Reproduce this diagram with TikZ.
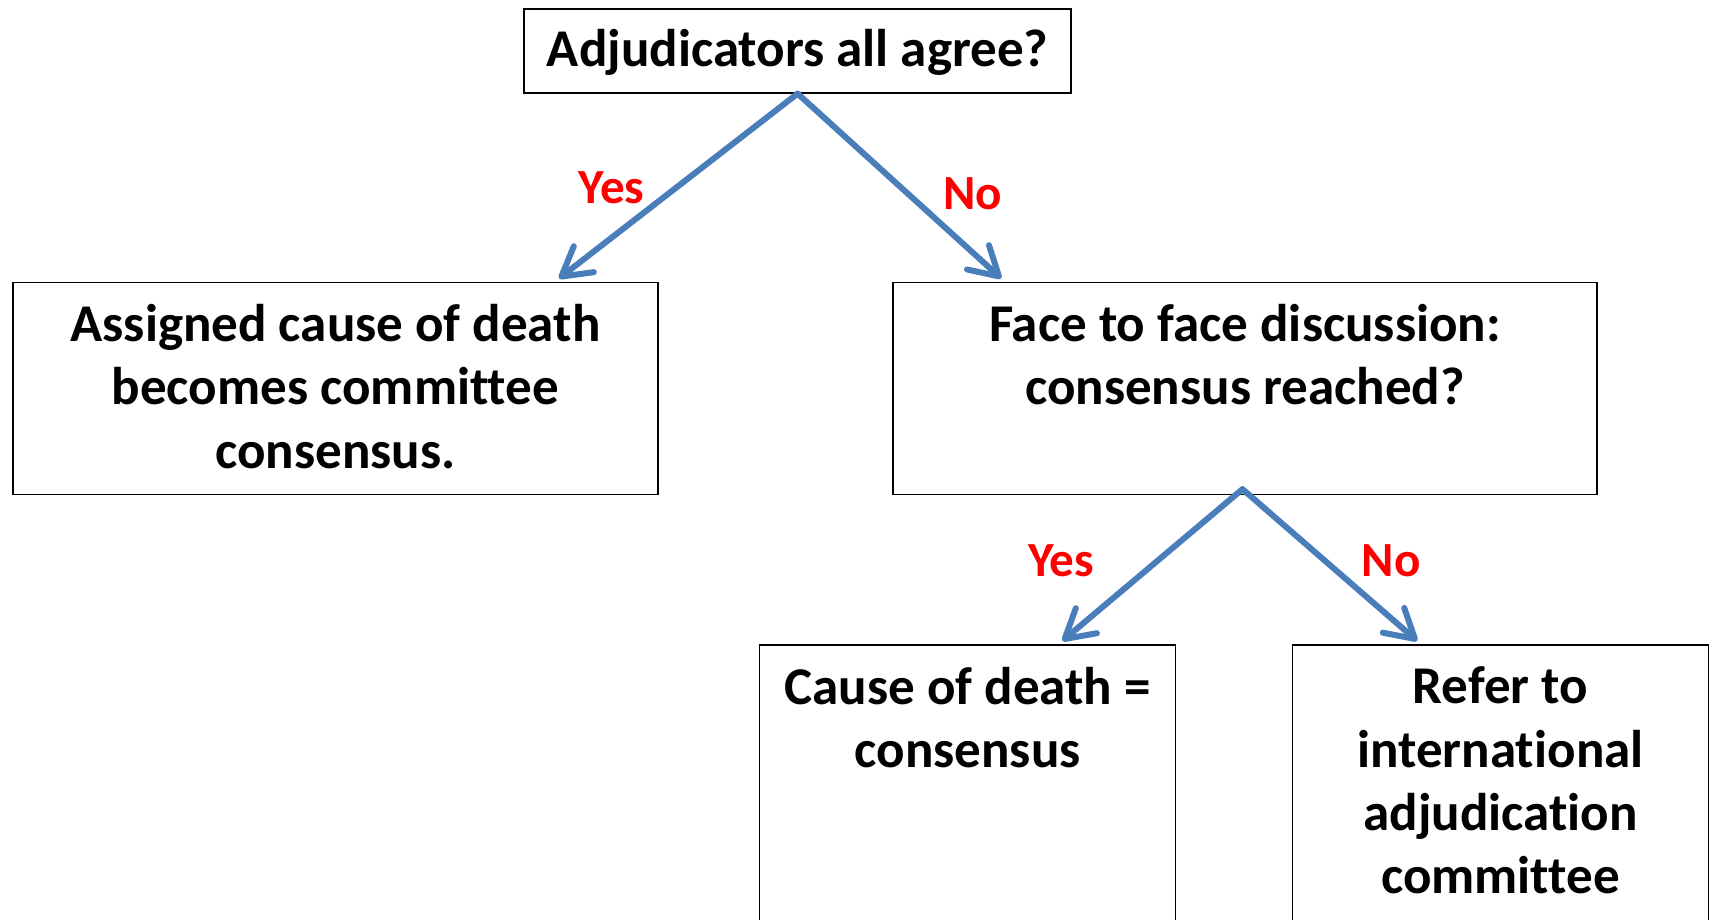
\documentclass[tikz,border=0pt]{standalone}
\usepackage{fontspec}
\setmainfont[Ligatures=NoCommon]{Carlito}
\usetikzlibrary{arrows.meta}
\definecolor{arrowblue}{HTML}{4A7EBB}
\begin{document}
\begin{tikzpicture}[x=1pt,y=-1pt,
  box/.style={draw=black, line width=1.5pt, inner sep=0pt, fill=white,
    font=\fontsize{48.6}{58}\selectfont\bfseries},
  flow/.style={draw=arrowblue, line width=5.5pt,
    -{Straight Barb[length=26pt,width=30pt,round]},
    line cap=round, line join=round},
  lab/.style={text=red, inner sep=0pt, font=\fontsize{45}{54}\selectfont\bfseries}]
\clip (0,0) rectangle (1568,842);
\fill[white] (0,0) rectangle (1568,842);
\node[box, minimum width=501pt, minimum height=77pt, text height=35pt, text depth=6pt] (top) at (730.5,46.5) {Adjudicators all agree?};
\node[box, anchor=north west] (lb) at (11,258)
  {\parbox[c][194pt][t]{591pt}{\centering\vspace*{20pt}Assigned cause of death\\ becomes committee\\ consensus.}};
\node[box, anchor=north west] (rb) at (817,258)
  {\parbox[c][194pt][t]{645pt}{\centering\vspace*{20pt}Face to face discussion:\\ consensus reached?}};
\node[box, anchor=north west] (bl) at (695,590)
  {\parbox[c][320pt][t]{381pt}{\centering\vspace*{20pt}Cause of death =\\ consensus}};
\node[box, anchor=north west] (br) at (1183,590)
  {\parbox[c][320pt][t]{381pt}{\centering\vspace*{20pt}Refer to\\ international\\ adjudication\\ committee}};
\coordinate (t1) at (512,255);
\coordinate (t2) at (917,255);
\coordinate (t3) at (973,587);
\coordinate (t4) at (1298,587);
\coordinate (s2) at (1138,448);
\draw[flow] (top.south) -- (t1);
\draw[flow] (top.south) -- (t2);
\draw[flow] (s2) -- (t3);
\draw[flow] (s2) -- (t4);
\node[lab] (y1) at (560,172) {Yes};
\node[lab] (n1) at (891,177) {No};
\node[lab] (y2) at (972,514) {Yes};
\node[lab] (n2) at (1274,514) {No};
\end{tikzpicture}
\end{document}
